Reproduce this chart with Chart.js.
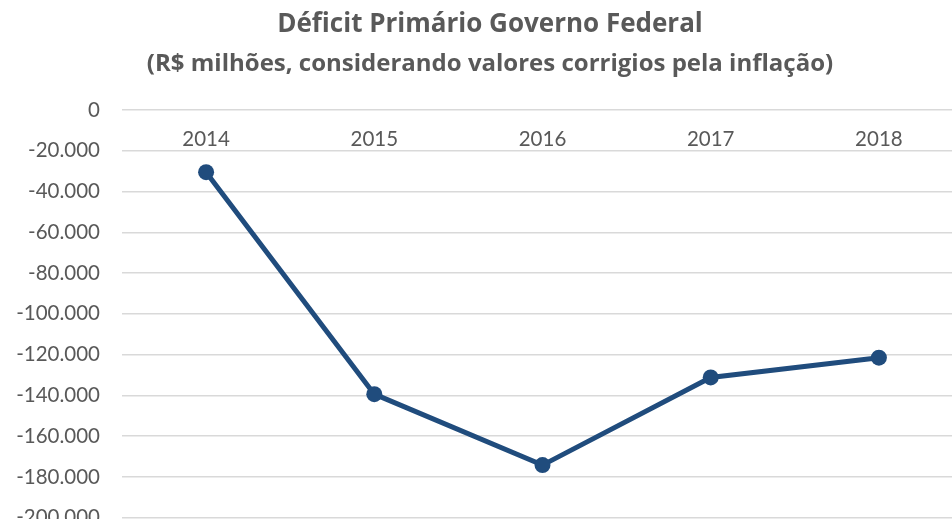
<!DOCTYPE html>
<html>
<head>
<meta charset="utf-8">
<script src="https://cdn.jsdelivr.net/npm/chart.js@4/dist/chart.umd.min.js"></script>
<style>
  html, body { margin: 0; padding: 0; background: #fff; overflow: hidden; }
  #wrap { width: 980px; height: 552px; }
</style>
</head>
<body>
<div id="wrap"><canvas id="deficit-chart"></canvas></div>
<script>
// Déficit primário do governo federal (R$ milhões, valores corrigidos)
const years = ['2014', '2015', '2016', '2017', '2018'];
const deficit = [-30500, -139400, -174200, -131200, -121500];
const yMin = -200000;
const yMax = 0;
const yStep = 20000;

const titleText = 'Déficit Primário Governo Federal';
const subtitleText = '(R$ milhões, considerando valores corrigios pela inflação)';

const FONT = 'Lato, "Open Sans", sans-serif';
const TITLE_FONT = '"Open Sans", Lato, sans-serif';
const GRAY = '#595959';
const LINE = '#204C7D';

// 20000 -> "20.000"
function fmtBR(v) {
  const s = String(Math.abs(v)).replace(/\B(?=(\d{3})+(?!\d))/g, '.');
  return v < 0 ? '-' + s : s;
}

Chart.defaults.font.family = FONT;
Chart.defaults.color = GRAY;

const ctx = document.getElementById('deficit-chart');
new Chart(ctx, {
  type: 'line',
  data: {
    labels: years,
    datasets: [{
      label: 'Déficit primário',
      data: deficit,
      borderColor: LINE,
      backgroundColor: LINE,
      pointBackgroundColor: LINE,
      pointBorderColor: LINE,
      pointBorderWidth: 0,
      pointRadius: 8,
      borderWidth: 5,
      tension: 0,
      fill: false
    }]
  },
  options: {
    responsive: true,
    maintainAspectRatio: false,
    animation: false,
    layout: { padding: { top: 0, right: 17, bottom: 15, left: 17 } },
    plugins: {
      legend: { display: false },
      tooltip: { enabled: false },
      title: {
        display: true,
        text: titleText,
        color: GRAY,
        font: { family: TITLE_FONT, size: 26, weight: 'bold' },
        padding: { top: 8.5, bottom: 0 }
      },
      subtitle: {
        display: true,
        text: subtitleText,
        color: GRAY,
        font: { family: TITLE_FONT, size: 24, weight: 'bold' },
        padding: { top: 10.5, bottom: 31 }
      }
    },
    scales: {
      x: {
        position: { y: 0 },
        offset: true,
        grid: { display: false, drawTicks: false },
        border: { display: false },
        ticks: { color: GRAY, padding: 17, font: { size: 20.5 } }
      },
      y: {
        min: yMin,
        max: yMax,
        afterFit: s => { s.width = 105; },
        grid: { color: '#D9D9D9', lineWidth: 1.5, drawTicks: false },
        border: { display: false },
        ticks: {
          stepSize: yStep,
          color: GRAY,
          padding: 22,
          font: { size: 20.5 },
          callback: v => fmtBR(v)
        }
      }
    }
  }
});
</script>
</body>
</html>
